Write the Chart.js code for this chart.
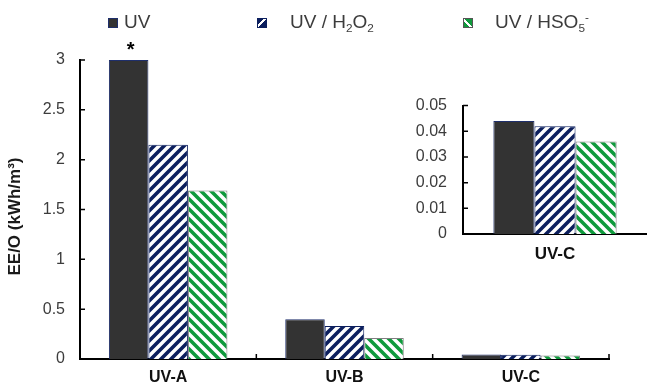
<!DOCTYPE html>
<html><head><meta charset="utf-8">
<script src="https://cdn.jsdelivr.net/npm/chart.js@4.4.1/dist/chart.umd.min.js"></script>
<style>
html,body{margin:0;padding:0;background:#fff;}
#wrap{position:relative;width:647px;height:384px;overflow:hidden;font-family:"Liberation Sans",Arial,sans-serif;background:#fff;}
#main{position:absolute;left:0;top:0;}
#inset{position:absolute;left:380px;top:80px;}
.lg{position:absolute;font-size:19px;line-height:19px;color:#3c3c3c;white-space:nowrap;}
.mk{position:absolute;width:10px;height:10px;box-sizing:border-box;}
.lg sub{font-size:0.62em;vertical-align:-0.3em;line-height:0;}
.lg sup{font-size:0.62em;vertical-align:0.6em;line-height:0;}
</style></head>
<body><div id="wrap">
<canvas id="main" width="647" height="384"></canvas>
<canvas id="inset" width="267" height="190"></canvas>
<div class="mk" style="left:108px;top:18px;background:#333333;border:1px solid #1f2f6b;"></div>
<div class="lg" style="left:124px;top:12px;">UV</div>
<div class="mk" style="left:257px;top:18px;border:1px solid #0c1f5e;background:repeating-linear-gradient(135deg,#0c1f5e 0 4px,#ffffff 4px 6px,#0c1f5e 6px 10px);"></div>
<div class="lg" style="left:290px;top:12px;">UV / H<sub>2</sub>O<sub>2</sub></div>
<div class="mk" style="left:463px;top:18px;border:1px solid #555;background:repeating-linear-gradient(45deg,#0f9a3c 0 4px,#ffffff 4px 6px,#0f9a3c 6px 10px);"></div>
<div class="lg" style="left:495px;top:12px;">UV / HSO<sub>5</sub><sup>-</sup></div>
</div>
<script>
// ---- data ----
const categories = ['UV-A', 'UV-B', 'UV-C'];
const seriesNames = ['UV', 'UV / H2O2', 'UV / HSO5-'];
const uv     = [3.00, 0.40, 0.044];
const uvH2O2 = [2.15, 0.33, 0.042];
const uvHSO5 = [1.69, 0.21, 0.036];
const uvMarks = ['*', '', ''];
const mainYTicks  = [0, 0.5, 1, 1.5, 2, 2.5, 3];
const insetCategories = ['UV-C'];
const insetYTicks = [0, 0.01, 0.02, 0.03, 0.04, 0.05];
const yTitle = 'EE/O (kWh/m³)';

// ---- styles ----
const FAM = '"Liberation Sans", Arial, sans-serif';
const NAVY = '#0c1f5e', GREEN = '#0f9a3c', DARK = '#333333';

function stripe(color, dir) {
  const c = document.createElement('canvas');
  c.width = 10; c.height = 10;
  const g = c.getContext('2d');
  g.fillStyle = '#fff'; g.fillRect(0, 0, 10, 10);
  g.strokeStyle = color; g.lineWidth = 3.6; g.lineCap = 'square';
  g.beginPath();
  if (dir === 'up') {
    g.moveTo(-10, 10); g.lineTo(10, -10);
    g.moveTo(0, 10); g.lineTo(10, 0);
    g.moveTo(0, 20); g.lineTo(20, 0);
  } else {
    g.moveTo(-10, 0); g.lineTo(10, 20);
    g.moveTo(0, 0); g.lineTo(10, 10);
    g.moveTo(0, -10); g.lineTo(20, 10);
  }
  g.stroke();
  return g.createPattern(c, 'repeat');
}
const patBlue = stripe(NAVY, 'up');
const patGreen = stripe(GREEN, 'down');

const inward = {
  id: 'inward',
  afterDraw(chart, args, opts) {
    const ctx = chart.ctx, xs = chart.scales.x, ys = chart.scales.y;
    ctx.save();
    ctx.strokeStyle = '#000'; ctx.lineWidth = 1.5;
    ctx.beginPath();
    if (opts.y) {
      ys.ticks.forEach(t => {
        const py = ys.getPixelForValue(t.value);
        ctx.moveTo(ys.right, py); ctx.lineTo(ys.right + 5, py);
      });
    }
    if (opts.x) {
      const n = xs.ticks.length, w = (xs.right - xs.left) / n;
      for (let i = 1; i <= n; i++) {
        const px = xs.left + i * w;
        ctx.moveTo(px, xs.top); ctx.lineTo(px, xs.top - 5);
      }
    }
    ctx.stroke();
    ctx.restore();
  }
};

const marks = {
  id: 'marks',
  afterDatasetsDraw(chart, args, opts) {
    if (!opts.labels) return;
    const ctx = chart.ctx, meta = chart.getDatasetMeta(0);
    ctx.save();
    ctx.fillStyle = '#000'; ctx.font = 'bold 20px ' + FAM;
    ctx.textAlign = 'center'; ctx.textBaseline = 'alphabetic';
    meta.data.forEach((bar, i) => {
      if (opts.labels[i]) ctx.fillText(opts.labels[i], bar.x + 2, bar.y - 4);
    });
    ctx.restore();
  }
};

const ytitle = {
  id: 'ytitle',
  afterDraw(chart, args, opts) {
    if (!opts.text) return;
    const ctx = chart.ctx, ca = chart.chartArea;
    ctx.save();
    ctx.translate(15, (ca.top + ca.bottom) / 2 + 7);
    ctx.rotate(-Math.PI / 2);
    ctx.font = 'bold 17px ' + FAM; ctx.fillStyle = '#1a1a1a';
    ctx.textAlign = 'center'; ctx.textBaseline = 'middle';
    ctx.fillText(opts.text, 0, 0);
    ctx.restore();
  }
};

function datasets(idx) {
  const pick = a => idx.map(i => a[i]);
  return [
    { label: seriesNames[0], data: pick(uv), backgroundColor: DARK, borderColor: '#1f2f6b', borderWidth: 1 },
    { label: seriesNames[1], data: pick(uvH2O2), backgroundColor: patBlue, borderColor: NAVY, borderWidth: 1 },
    { label: seriesNames[2], data: pick(uvHSO5), backgroundColor: patGreen, borderColor: '#7f7f7f', borderWidth: 1 }
  ];
}
const fmt = v => (v === 0 ? '0' : String(v));

new Chart(document.getElementById('main'), {
  type: 'bar',
  data: { labels: categories, datasets: datasets([0, 1, 2]) },
  options: {
    responsive: false, animation: false, devicePixelRatio: 1,
    layout: { padding: { top: 60, right: 38, left: 0, bottom: 0 } },
    datasets: { bar: { categoryPercentage: 0.672, barPercentage: 1 } },
    plugins: {
      legend: { display: false }, tooltip: { enabled: false },
      inward: { x: true, y: true }, marks: { labels: uvMarks }, ytitle: { text: yTitle }
    },
    scales: {
      x: {
        grid: { display: false, drawTicks: false },
        border: { display: true, color: '#000', width: 2 },
        ticks: { font: { family: FAM, size: 16, weight: 'bold' }, color: '#111', padding: 9 },
        afterFit(s) { s.height = 25; }
      },
      y: {
        min: 0, max: 3,
        afterBuildTicks(s) { s.ticks = mainYTicks.map(v => ({ value: v })); },
        grid: { display: false, drawTicks: false },
        border: { display: true, color: '#000', width: 2 },
        ticks: { font: { family: FAM, size: 16 }, color: '#3c3c3c', padding: 15, callback: fmt },
        afterFit(s) { s.width = 80; }
      }
    }
  },
  plugins: [inward, marks, ytitle]
});

const ci = categories.indexOf(insetCategories[0]);
new Chart(document.getElementById('inset'), {
  type: 'bar',
  data: { labels: insetCategories, datasets: datasets([ci]) },
  options: {
    responsive: false, animation: false, devicePixelRatio: 1,
    layout: { padding: { top: 16, right: 0, left: 0, bottom: 0 } },
    datasets: { bar: { categoryPercentage: 0.67, barPercentage: 1 } },
    plugins: { legend: { display: false }, tooltip: { enabled: false }, inward: { x: false, y: true } },
    scales: {
      x: {
        grid: { display: false, drawTicks: false },
        border: { display: true, color: '#000', width: 2 },
        ticks: { font: { family: FAM, size: 17, weight: 'bold' }, color: '#111', padding: 10 },
        afterFit(s) { s.height = 36; }
      },
      y: {
        min: 0, max: 0.05,
        afterBuildTicks(s) { s.ticks = insetYTicks.map(v => ({ value: v })); },
        grid: { display: false, drawTicks: false },
        border: { display: true, color: '#000', width: 2 },
        ticks: { font: { family: FAM, size: 16 }, color: '#3c3c3c', padding: 16, callback: fmt },
        afterFit(s) { s.width = 83; }
      }
    }
  },
  plugins: [inward]
});
</script>
</body></html>
